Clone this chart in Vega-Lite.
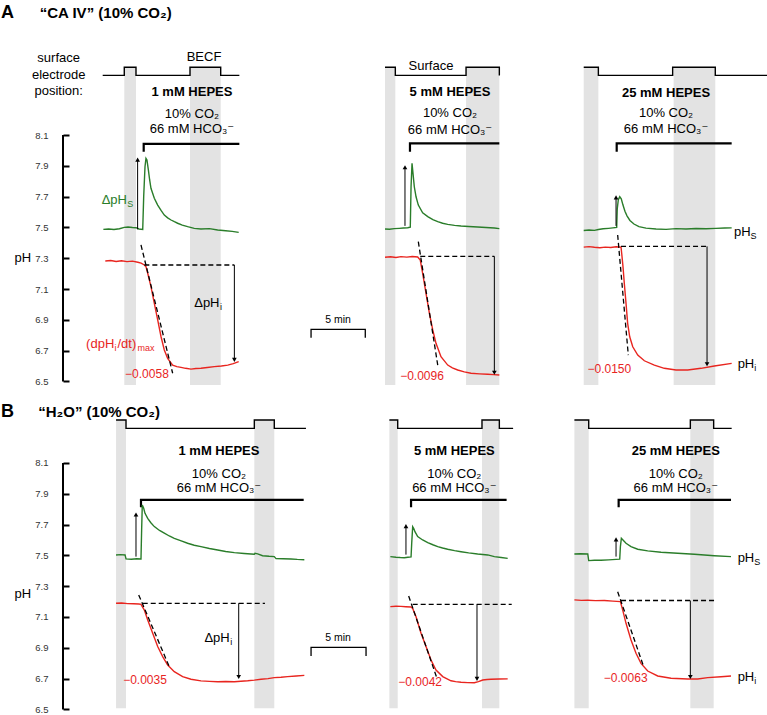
{
  "$schema": "https://vega.github.io/schema/vega-lite/v6.json",
  "background": "white",
  "padding": 0,
  "spacing": 0,
  "resolve": {"scale": {"x": "independent", "y": "independent"}},
  "config": {
    "view": {"stroke": null},
    "font": "Liberation Sans, Arial, DejaVu Sans, sans-serif",
    "axis": {"labelFont": "Liberation Sans, Arial, sans-serif", "titleFont": "Liberation Sans, Arial, sans-serif"}
  },
  "datasets": {
    "bands": [
      {"p": "A", "c": 1, "t1": 5.65, "t2": 6.73}, {"p": "A", "c": 1, "t1": 11.71, "t2": 14.54},
      {"p": "A", "c": 5, "t1": 29.69, "t2": 30.64}, {"p": "A", "c": 5, "t1": 37.16, "t2": 40.23},
      {"p": "A", "c": 25, "t1": 48.01, "t2": 49.36}, {"p": "A", "c": 25, "t1": 56.3, "t2": 60.14},
      {"p": "B", "c": 1, "t1": 4.89, "t2": 5.81}, {"p": "B", "c": 1, "t1": 17.64, "t2": 19.48},
      {"p": "B", "c": 5, "t1": 30.09, "t2": 30.86}, {"p": "B", "c": 5, "t1": 38.63, "t2": 40.23},
      {"p": "B", "c": 25, "t1": 47.15, "t2": 48.47}, {"p": "B", "c": 25, "t1": 57.84, "t2": 59.99}
    ],
    "electrode": [
      {"p": "A", "c": 1, "o": 1, "t": 3.66, "v": 8.487}, {"p": "A", "c": 1, "o": 2, "t": 5.65, "v": 8.487}, {"p": "A", "c": 1, "o": 3, "t": 5.65, "v": 8.54}, {"p": "A", "c": 1, "o": 4, "t": 6.73, "v": 8.54}, {"p": "A", "c": 1, "o": 5, "t": 6.73, "v": 8.487}, {"p": "A", "c": 1, "o": 6, "t": 11.71, "v": 8.487}, {"p": "A", "c": 1, "o": 7, "t": 11.71, "v": 8.54}, {"p": "A", "c": 1, "o": 8, "t": 14.54, "v": 8.54}, {"p": "A", "c": 1, "o": 9, "t": 14.54, "v": 8.487}, {"p": "A", "c": 1, "o": 10, "t": 16.26, "v": 8.487},
      {"p": "A", "c": 5, "o": 1, "t": 29.69, "v": 8.54}, {"p": "A", "c": 5, "o": 2, "t": 30.64, "v": 8.54}, {"p": "A", "c": 5, "o": 3, "t": 30.64, "v": 8.487}, {"p": "A", "c": 5, "o": 4, "t": 37.16, "v": 8.487}, {"p": "A", "c": 5, "o": 5, "t": 37.16, "v": 8.54}, {"p": "A", "c": 5, "o": 6, "t": 40.23, "v": 8.54}, {"p": "A", "c": 5, "o": 7, "t": 40.23, "v": 8.487},
      {"p": "A", "c": 25, "o": 1, "t": 48.01, "v": 8.54}, {"p": "A", "c": 25, "o": 2, "t": 49.36, "v": 8.54}, {"p": "A", "c": 25, "o": 3, "t": 49.36, "v": 8.487}, {"p": "A", "c": 25, "o": 4, "t": 56.21, "v": 8.487}, {"p": "A", "c": 25, "o": 5, "t": 56.21, "v": 8.54}, {"p": "A", "c": 25, "o": 6, "t": 60.14, "v": 8.54}, {"p": "A", "c": 25, "o": 7, "t": 60.14, "v": 8.487}, {"p": "A", "c": 25, "o": 8, "t": 65.0, "v": 8.487},
      {"p": "B", "c": 1, "o": 1, "t": 4.89, "v": 8.379}, {"p": "B", "c": 1, "o": 2, "t": 5.81, "v": 8.379}, {"p": "B", "c": 1, "o": 3, "t": 5.81, "v": 8.325}, {"p": "B", "c": 1, "o": 4, "t": 17.64, "v": 8.325}, {"p": "B", "c": 1, "o": 5, "t": 17.64, "v": 8.379}, {"p": "B", "c": 1, "o": 6, "t": 19.48, "v": 8.379}, {"p": "B", "c": 1, "o": 7, "t": 19.48, "v": 8.325}, {"p": "B", "c": 1, "o": 8, "t": 22.4, "v": 8.325},
      {"p": "B", "c": 5, "o": 1, "t": 30.09, "v": 8.379}, {"p": "B", "c": 5, "o": 2, "t": 30.86, "v": 8.379}, {"p": "B", "c": 5, "o": 3, "t": 30.86, "v": 8.325}, {"p": "B", "c": 5, "o": 4, "t": 38.63, "v": 8.325}, {"p": "B", "c": 5, "o": 5, "t": 38.63, "v": 8.379}, {"p": "B", "c": 5, "o": 6, "t": 40.23, "v": 8.379}, {"p": "B", "c": 5, "o": 7, "t": 40.23, "v": 8.325}, {"p": "B", "c": 5, "o": 8, "t": 41.5, "v": 8.325},
      {"p": "B", "c": 25, "o": 1, "t": 47.15, "v": 8.379}, {"p": "B", "c": 25, "o": 2, "t": 48.47, "v": 8.379}, {"p": "B", "c": 25, "o": 3, "t": 48.47, "v": 8.325}, {"p": "B", "c": 25, "o": 4, "t": 57.84, "v": 8.325}, {"p": "B", "c": 25, "o": 5, "t": 57.84, "v": 8.379}, {"p": "B", "c": 25, "o": 6, "t": 59.99, "v": 8.379}, {"p": "B", "c": 25, "o": 7, "t": 59.99, "v": 8.325}, {"p": "B", "c": 25, "o": 8, "t": 61.65, "v": 8.325}
    ],
    "co2": [
      {"p": "A", "c": 1, "o": 1, "t": 7.44, "v": 7.992}, {"p": "A", "c": 1, "o": 2, "t": 7.44, "v": 8.042}, {"p": "A", "c": 1, "o": 3, "t": 16.26, "v": 8.042},
      {"p": "A", "c": 5, "o": 1, "t": 31.99, "v": 7.992}, {"p": "A", "c": 5, "o": 2, "t": 31.99, "v": 8.046}, {"p": "A", "c": 5, "o": 3, "t": 40.23, "v": 8.046},
      {"p": "A", "c": 25, "o": 1, "t": 51.05, "v": 7.992}, {"p": "A", "c": 25, "o": 2, "t": 51.05, "v": 8.046}, {"p": "A", "c": 25, "o": 3, "t": 61.65, "v": 8.046},
      {"p": "B", "c": 1, "o": 1, "t": 7.19, "v": 7.812}, {"p": "B", "c": 1, "o": 2, "t": 7.19, "v": 7.86}, {"p": "B", "c": 1, "o": 3, "t": 22.19, "v": 7.86},
      {"p": "B", "c": 5, "o": 1, "t": 32.09, "v": 7.812}, {"p": "B", "c": 5, "o": 2, "t": 32.09, "v": 7.86}, {"p": "B", "c": 5, "o": 3, "t": 40.9, "v": 7.86},
      {"p": "B", "c": 25, "o": 1, "t": 51.23, "v": 7.812}, {"p": "B", "c": 25, "o": 2, "t": 51.23, "v": 7.86}, {"p": "B", "c": 25, "o": 3, "t": 61.59, "v": 7.86}
    ],
    "scalebar": [
      {"p": "A", "o": 1, "t": 22.87, "v": 6.784}, {"p": "A", "o": 2, "t": 22.87, "v": 6.838}, {"p": "A", "o": 3, "t": 27.87, "v": 6.838}, {"p": "A", "o": 4, "t": 27.87, "v": 6.784},
      {"p": "B", "o": 1, "t": 22.87, "v": 6.847}, {"p": "B", "o": 2, "t": 22.87, "v": 6.903}, {"p": "B", "o": 3, "t": 27.94, "v": 6.903}, {"p": "B", "o": 4, "t": 27.94, "v": 6.847}
    ],
    "dash": [
      {"p": "A", "c": 1, "k": "slope", "t": 7.19, "pH": 7.386}, {"p": "A", "c": 1, "k": "slope", "t": 10.11, "pH": 6.553},
      {"p": "A", "c": 1, "k": "flat", "t": 7.5, "pH": 7.256}, {"p": "A", "c": 1, "k": "flat", "t": 15.8, "pH": 7.256},
      {"p": "A", "c": 5, "k": "slope", "t": 32.76, "pH": 7.407}, {"p": "A", "c": 5, "k": "slope", "t": 34.55, "pH": 6.606},
      {"p": "A", "c": 5, "k": "flat", "t": 32.94, "pH": 7.312}, {"p": "A", "c": 5, "k": "flat", "t": 39.77, "pH": 7.312},
      {"p": "A", "c": 25, "k": "slope", "t": 51.14, "pH": 7.451}, {"p": "A", "c": 25, "k": "slope", "t": 52.12, "pH": 6.671},
      {"p": "A", "c": 25, "k": "flat", "t": 51.45, "pH": 7.377}, {"p": "A", "c": 25, "k": "flat", "t": 59.38, "pH": 7.377},
      {"p": "B", "c": 1, "k": "slope", "t": 6.98, "pH": 7.243}, {"p": "B", "c": 1, "k": "slope", "t": 9.8, "pH": 6.777},
      {"p": "B", "c": 1, "k": "flat", "t": 7.35, "pH": 7.189}, {"p": "B", "c": 1, "k": "flat", "t": 18.62, "pH": 7.189},
      {"p": "B", "c": 5, "k": "slope", "t": 31.87, "pH": 7.236}, {"p": "B", "c": 5, "k": "slope", "t": 34.48, "pH": 6.702},
      {"p": "B", "c": 5, "k": "flat", "t": 32.24, "pH": 7.182}, {"p": "B", "c": 5, "k": "flat", "t": 41.37, "pH": 7.182},
      {"p": "B", "c": 25, "k": "slope", "t": 51.14, "pH": 7.264}, {"p": "B", "c": 25, "k": "slope", "t": 53.54, "pH": 6.777},
      {"p": "B", "c": 25, "k": "flat", "t": 51.45, "pH": 7.207}, {"p": "B", "c": 25, "k": "flat", "t": 60.05, "pH": 7.207}
    ],
    "arrows": [
      {"p": "A", "c": 1, "t": 6.88, "y0": 7.487, "y1": 7.94, "dir": "up"},
      {"p": "A", "c": 1, "t": 15.8, "y0": 7.256, "y1": 6.64, "dir": "down"},
      {"p": "A", "c": 5, "t": 31.53, "y0": 7.51, "y1": 7.89, "dir": "up"},
      {"p": "A", "c": 5, "t": 39.77, "y0": 7.312, "y1": 6.556, "dir": "down"},
      {"p": "A", "c": 25, "t": 50.99, "y0": 7.51, "y1": 7.695, "dir": "up"},
      {"p": "A", "c": 25, "t": 59.38, "y0": 7.377, "y1": 6.612, "dir": "down"},
      {"p": "B", "c": 1, "t": 6.73, "y0": 7.492, "y1": 7.765, "dir": "up"},
      {"p": "B", "c": 1, "t": 16.2, "y0": 7.189, "y1": 6.71, "dir": "down"},
      {"p": "B", "c": 5, "t": 31.62, "y0": 7.505, "y1": 7.69, "dir": "up"},
      {"p": "B", "c": 5, "t": 38.17, "y0": 7.182, "y1": 6.698, "dir": "down"},
      {"p": "B", "c": 25, "t": 50.99, "y0": 7.492, "y1": 7.604, "dir": "up"},
      {"p": "B", "c": 25, "t": 57.84, "y0": 7.207, "y1": 6.71, "dir": "down"}
    ],
    "traces": [
      {"p":"A","c":1,"s":"pHS","t":3.72,"pH":7.487},{"p":"A","c":1,"s":"pHS","t":4.2,"pH":7.49},{"p":"A","c":1,"s":"pHS","t":4.7,"pH":7.486},{"p":"A","c":1,"s":"pHS","t":5.2,"pH":7.491},{"p":"A","c":1,"s":"pHS","t":5.65,"pH":7.5},{"p":"A","c":1,"s":"pHS","t":6.0,"pH":7.503},{"p":"A","c":1,"s":"pHS","t":6.4,"pH":7.499},{"p":"A","c":1,"s":"pHS","t":6.73,"pH":7.498},{"p":"A","c":1,"s":"pHS","t":7.0,"pH":7.49},{"p":"A","c":1,"s":"pHS","t":7.35,"pH":7.487},{"p":"A","c":1,"s":"pHS","t":7.44,"pH":7.7},{"p":"A","c":1,"s":"pHS","t":7.56,"pH":7.894},{"p":"A","c":1,"s":"pHS","t":7.65,"pH":7.948},{"p":"A","c":1,"s":"pHS","t":7.74,"pH":7.938},{"p":"A","c":1,"s":"pHS","t":7.87,"pH":7.873},{"p":"A","c":1,"s":"pHS","t":7.99,"pH":7.808},{"p":"A","c":1,"s":"pHS","t":8.11,"pH":7.754},{"p":"A","c":1,"s":"pHS","t":8.42,"pH":7.689},{"p":"A","c":1,"s":"pHS","t":8.73,"pH":7.645},{"p":"A","c":1,"s":"pHS","t":9.04,"pH":7.61},{"p":"A","c":1,"s":"pHS","t":9.34,"pH":7.58},{"p":"A","c":1,"s":"pHS","t":9.65,"pH":7.562},{"p":"A","c":1,"s":"pHS","t":9.96,"pH":7.548},{"p":"A","c":1,"s":"pHS","t":10.27,"pH":7.537},{"p":"A","c":1,"s":"pHS","t":10.57,"pH":7.527},{"p":"A","c":1,"s":"pHS","t":11.0,"pH":7.515},{"p":"A","c":1,"s":"pHS","t":11.49,"pH":7.505},{"p":"A","c":1,"s":"pHS","t":12.1,"pH":7.494},{"p":"A","c":1,"s":"pHS","t":12.72,"pH":7.49},{"p":"A","c":1,"s":"pHS","t":13.5,"pH":7.492},{"p":"A","c":1,"s":"pHS","t":14.26,"pH":7.483},{"p":"A","c":1,"s":"pHS","t":15.0,"pH":7.478},{"p":"A","c":1,"s":"pHS","t":15.6,"pH":7.474},{"p":"A","c":1,"s":"pHS","t":16.2,"pH":7.468},
      {"p":"A","c":1,"s":"pHi","t":3.9,"pH":7.282},{"p":"A","c":1,"s":"pHi","t":4.4,"pH":7.285},{"p":"A","c":1,"s":"pHi","t":4.9,"pH":7.279},{"p":"A","c":1,"s":"pHi","t":5.4,"pH":7.283},{"p":"A","c":1,"s":"pHi","t":5.9,"pH":7.278},{"p":"A","c":1,"s":"pHi","t":6.4,"pH":7.281},{"p":"A","c":1,"s":"pHi","t":6.9,"pH":7.274},{"p":"A","c":1,"s":"pHi","t":7.2,"pH":7.268},{"p":"A","c":1,"s":"pHi","t":7.5,"pH":7.256},{"p":"A","c":1,"s":"pHi","t":7.65,"pH":7.245},{"p":"A","c":1,"s":"pHi","t":7.81,"pH":7.202},{"p":"A","c":1,"s":"pHi","t":8.11,"pH":7.115},{"p":"A","c":1,"s":"pHi","t":8.42,"pH":7.007},{"p":"A","c":1,"s":"pHi","t":8.73,"pH":6.899},{"p":"A","c":1,"s":"pHi","t":9.04,"pH":6.79},{"p":"A","c":1,"s":"pHi","t":9.34,"pH":6.704},{"p":"A","c":1,"s":"pHi","t":9.65,"pH":6.65},{"p":"A","c":1,"s":"pHi","t":10.11,"pH":6.606},{"p":"A","c":1,"s":"pHi","t":10.5,"pH":6.596},{"p":"A","c":1,"s":"pHi","t":10.88,"pH":6.591},{"p":"A","c":1,"s":"pHi","t":11.3,"pH":6.585},{"p":"A","c":1,"s":"pHi","t":11.8,"pH":6.58},{"p":"A","c":1,"s":"pHi","t":12.25,"pH":6.584},{"p":"A","c":1,"s":"pHi","t":12.72,"pH":6.585},{"p":"A","c":1,"s":"pHi","t":13.3,"pH":6.59},{"p":"A","c":1,"s":"pHi","t":13.95,"pH":6.596},{"p":"A","c":1,"s":"pHi","t":14.6,"pH":6.6},{"p":"A","c":1,"s":"pHi","t":15.19,"pH":6.606},{"p":"A","c":1,"s":"pHi","t":15.7,"pH":6.615},{"p":"A","c":1,"s":"pHi","t":16.2,"pH":6.628},
      {"p":"A","c":5,"s":"pHS","t":29.69,"pH":7.49},{"p":"A","c":5,"s":"pHS","t":30.1,"pH":7.488},{"p":"A","c":5,"s":"pHS","t":30.55,"pH":7.492},{"p":"A","c":5,"s":"pHS","t":31.0,"pH":7.494},{"p":"A","c":5,"s":"pHS","t":31.4,"pH":7.496},{"p":"A","c":5,"s":"pHS","t":31.78,"pH":7.498},{"p":"A","c":5,"s":"pHS","t":32.02,"pH":7.501},{"p":"A","c":5,"s":"pHS","t":32.09,"pH":7.764},{"p":"A","c":5,"s":"pHS","t":32.18,"pH":7.916},{"p":"A","c":5,"s":"pHS","t":32.27,"pH":7.851},{"p":"A","c":5,"s":"pHS","t":32.39,"pH":7.764},{"p":"A","c":5,"s":"pHS","t":32.55,"pH":7.699},{"p":"A","c":5,"s":"pHS","t":32.76,"pH":7.645},{"p":"A","c":5,"s":"pHS","t":33.16,"pH":7.595},{"p":"A","c":5,"s":"pHS","t":33.63,"pH":7.57},{"p":"A","c":5,"s":"pHS","t":34.1,"pH":7.55},{"p":"A","c":5,"s":"pHS","t":34.55,"pH":7.537},{"p":"A","c":5,"s":"pHS","t":35.0,"pH":7.527},{"p":"A","c":5,"s":"pHS","t":35.47,"pH":7.52},{"p":"A","c":5,"s":"pHS","t":36.1,"pH":7.513},{"p":"A","c":5,"s":"pHS","t":36.7,"pH":7.509},{"p":"A","c":5,"s":"pHS","t":37.4,"pH":7.506},{"p":"A","c":5,"s":"pHS","t":38.23,"pH":7.503},{"p":"A","c":5,"s":"pHS","t":39.0,"pH":7.499},{"p":"A","c":5,"s":"pHS","t":39.77,"pH":7.496},{"p":"A","c":5,"s":"pHS","t":40.23,"pH":7.492},
      {"p":"A","c":5,"s":"pHi","t":29.69,"pH":7.306},{"p":"A","c":5,"s":"pHi","t":30.2,"pH":7.309},{"p":"A","c":5,"s":"pHi","t":30.7,"pH":7.305},{"p":"A","c":5,"s":"pHi","t":31.16,"pH":7.31},{"p":"A","c":5,"s":"pHi","t":31.7,"pH":7.307},{"p":"A","c":5,"s":"pHi","t":32.2,"pH":7.311},{"p":"A","c":5,"s":"pHi","t":32.7,"pH":7.308},{"p":"A","c":5,"s":"pHi","t":32.94,"pH":7.288},{"p":"A","c":5,"s":"pHi","t":33.16,"pH":7.202},{"p":"A","c":5,"s":"pHi","t":33.47,"pH":7.072},{"p":"A","c":5,"s":"pHi","t":33.78,"pH":6.942},{"p":"A","c":5,"s":"pHi","t":34.09,"pH":6.834},{"p":"A","c":5,"s":"pHi","t":34.39,"pH":6.747},{"p":"A","c":5,"s":"pHi","t":34.85,"pH":6.66},{"p":"A","c":5,"s":"pHi","t":35.47,"pH":6.606},{"p":"A","c":5,"s":"pHi","t":35.9,"pH":6.588},{"p":"A","c":5,"s":"pHi","t":36.39,"pH":6.574},{"p":"A","c":5,"s":"pHi","t":37.0,"pH":6.562},{"p":"A","c":5,"s":"pHi","t":37.62,"pH":6.553},{"p":"A","c":5,"s":"pHi","t":38.4,"pH":6.549},{"p":"A","c":5,"s":"pHi","t":39.16,"pH":6.546},{"p":"A","c":5,"s":"pHi","t":39.7,"pH":6.544},{"p":"A","c":5,"s":"pHi","t":40.23,"pH":6.542},
      {"p":"A","c":25,"s":"pHS","t":48.01,"pH":7.48},{"p":"A","c":25,"s":"pHS","t":48.5,"pH":7.483},{"p":"A","c":25,"s":"pHS","t":49.0,"pH":7.481},{"p":"A","c":25,"s":"pHS","t":49.36,"pH":7.486},{"p":"A","c":25,"s":"pHS","t":49.8,"pH":7.491},{"p":"A","c":25,"s":"pHS","t":50.3,"pH":7.494},{"p":"A","c":25,"s":"pHS","t":50.7,"pH":7.497},{"p":"A","c":25,"s":"pHS","t":51.05,"pH":7.5},{"p":"A","c":25,"s":"pHS","t":51.1,"pH":7.62},{"p":"A","c":25,"s":"pHS","t":51.2,"pH":7.68},{"p":"A","c":25,"s":"pHS","t":51.33,"pH":7.7},{"p":"A","c":25,"s":"pHS","t":51.47,"pH":7.686},{"p":"A","c":25,"s":"pHS","t":51.63,"pH":7.645},{"p":"A","c":25,"s":"pHS","t":51.81,"pH":7.605},{"p":"A","c":25,"s":"pHS","t":52.0,"pH":7.575},{"p":"A","c":25,"s":"pHS","t":52.27,"pH":7.545},{"p":"A","c":25,"s":"pHS","t":52.64,"pH":7.522},{"p":"A","c":25,"s":"pHS","t":53.1,"pH":7.505},{"p":"A","c":25,"s":"pHS","t":53.75,"pH":7.495},{"p":"A","c":25,"s":"pHS","t":54.68,"pH":7.49},{"p":"A","c":25,"s":"pHS","t":55.6,"pH":7.487},{"p":"A","c":25,"s":"pHS","t":56.52,"pH":7.492},{"p":"A","c":25,"s":"pHS","t":57.44,"pH":7.49},{"p":"A","c":25,"s":"pHS","t":58.36,"pH":7.493},{"p":"A","c":25,"s":"pHS","t":59.29,"pH":7.491},{"p":"A","c":25,"s":"pHS","t":60.2,"pH":7.494},{"p":"A","c":25,"s":"pHS","t":61.0,"pH":7.496},{"p":"A","c":25,"s":"pHS","t":61.65,"pH":7.497},
      {"p":"A","c":25,"s":"pHi","t":48.01,"pH":7.372},{"p":"A","c":25,"s":"pHi","t":48.5,"pH":7.375},{"p":"A","c":25,"s":"pHi","t":49.0,"pH":7.371},{"p":"A","c":25,"s":"pHi","t":49.5,"pH":7.368},{"p":"A","c":25,"s":"pHi","t":50.0,"pH":7.372},{"p":"A","c":25,"s":"pHi","t":50.5,"pH":7.37},{"p":"A","c":25,"s":"pHi","t":51.0,"pH":7.374},{"p":"A","c":25,"s":"pHi","t":51.45,"pH":7.372},{"p":"A","c":25,"s":"pHi","t":51.51,"pH":7.332},{"p":"A","c":25,"s":"pHi","t":51.63,"pH":7.245},{"p":"A","c":25,"s":"pHi","t":51.75,"pH":7.137},{"p":"A","c":25,"s":"pHi","t":51.91,"pH":7.007},{"p":"A","c":25,"s":"pHi","t":52.06,"pH":6.877},{"p":"A","c":25,"s":"pHi","t":52.25,"pH":6.79},{"p":"A","c":25,"s":"pHi","t":52.53,"pH":6.725},{"p":"A","c":25,"s":"pHi","t":52.99,"pH":6.671},{"p":"A","c":25,"s":"pHi","t":53.6,"pH":6.634},{"p":"A","c":25,"s":"pHi","t":54.52,"pH":6.606},{"p":"A","c":25,"s":"pHi","t":55.44,"pH":6.585},{"p":"A","c":25,"s":"pHi","t":56.52,"pH":6.574},{"p":"A","c":25,"s":"pHi","t":57.6,"pH":6.574},{"p":"A","c":25,"s":"pHi","t":58.82,"pH":6.585},{"p":"A","c":25,"s":"pHi","t":60.05,"pH":6.6},{"p":"A","c":25,"s":"pHi","t":61.65,"pH":6.617},
      {"p":"B","c":1,"s":"pHS","t":4.89,"pH":7.503},{"p":"B","c":1,"s":"pHS","t":5.3,"pH":7.505},{"p":"B","c":1,"s":"pHS","t":5.72,"pH":7.503},{"p":"B","c":1,"s":"pHS","t":5.81,"pH":7.477},{"p":"B","c":1,"s":"pHS","t":6.3,"pH":7.475},{"p":"B","c":1,"s":"pHS","t":6.8,"pH":7.478},{"p":"B","c":1,"s":"pHS","t":7.19,"pH":7.477},{"p":"B","c":1,"s":"pHS","t":7.25,"pH":7.665},{"p":"B","c":1,"s":"pHS","t":7.31,"pH":7.827},{"p":"B","c":1,"s":"pHS","t":7.44,"pH":7.806},{"p":"B","c":1,"s":"pHS","t":7.56,"pH":7.773},{"p":"B","c":1,"s":"pHS","t":7.81,"pH":7.741},{"p":"B","c":1,"s":"pHS","t":8.1,"pH":7.712},{"p":"B","c":1,"s":"pHS","t":8.42,"pH":7.687},{"p":"B","c":1,"s":"pHS","t":8.9,"pH":7.662},{"p":"B","c":1,"s":"pHS","t":9.34,"pH":7.644},{"p":"B","c":1,"s":"pHS","t":9.8,"pH":7.626},{"p":"B","c":1,"s":"pHS","t":10.26,"pH":7.611},{"p":"B","c":1,"s":"pHS","t":10.9,"pH":7.594},{"p":"B","c":1,"s":"pHS","t":11.49,"pH":7.579},{"p":"B","c":1,"s":"pHS","t":12.1,"pH":7.566},{"p":"B","c":1,"s":"pHS","t":12.72,"pH":7.557},{"p":"B","c":1,"s":"pHS","t":13.5,"pH":7.545},{"p":"B","c":1,"s":"pHS","t":14.26,"pH":7.535},{"p":"B","c":1,"s":"pHS","t":15.0,"pH":7.525},{"p":"B","c":1,"s":"pHS","t":15.8,"pH":7.518},{"p":"B","c":1,"s":"pHS","t":16.7,"pH":7.512},{"p":"B","c":1,"s":"pHS","t":17.64,"pH":7.507},{"p":"B","c":1,"s":"pHS","t":17.7,"pH":7.514},{"p":"B","c":1,"s":"pHS","t":17.95,"pH":7.51},{"p":"B","c":1,"s":"pHS","t":18.4,"pH":7.498},{"p":"B","c":1,"s":"pHS","t":19.0,"pH":7.494},{"p":"B","c":1,"s":"pHS","t":19.48,"pH":7.492},{"p":"B","c":1,"s":"pHS","t":19.64,"pH":7.479},{"p":"B","c":1,"s":"pHS","t":20.3,"pH":7.478},{"p":"B","c":1,"s":"pHS","t":21.02,"pH":7.477},{"p":"B","c":1,"s":"pHS","t":21.6,"pH":7.474},{"p":"B","c":1,"s":"pHS","t":22.25,"pH":7.472},
      {"p":"B","c":1,"s":"pHi","t":4.89,"pH":7.189},{"p":"B","c":1,"s":"pHi","t":5.4,"pH":7.191},{"p":"B","c":1,"s":"pHi","t":5.96,"pH":7.187},{"p":"B","c":1,"s":"pHi","t":6.5,"pH":7.186},{"p":"B","c":1,"s":"pHi","t":7.0,"pH":7.184},{"p":"B","c":1,"s":"pHi","t":7.19,"pH":7.182},{"p":"B","c":1,"s":"pHi","t":7.5,"pH":7.145},{"p":"B","c":1,"s":"pHi","t":7.81,"pH":7.081},{"p":"B","c":1,"s":"pHi","t":8.27,"pH":6.994},{"p":"B","c":1,"s":"pHi","t":8.73,"pH":6.908},{"p":"B","c":1,"s":"pHi","t":9.19,"pH":6.843},{"p":"B","c":1,"s":"pHi","t":9.65,"pH":6.788},{"p":"B","c":1,"s":"pHi","t":10.26,"pH":6.745},{"p":"B","c":1,"s":"pHi","t":11.03,"pH":6.713},{"p":"B","c":1,"s":"pHi","t":11.8,"pH":6.696},{"p":"B","c":1,"s":"pHi","t":12.72,"pH":6.685},{"p":"B","c":1,"s":"pHi","t":13.5,"pH":6.682},{"p":"B","c":1,"s":"pHi","t":14.26,"pH":6.68},{"p":"B","c":1,"s":"pHi","t":15.0,"pH":6.681},{"p":"B","c":1,"s":"pHi","t":15.8,"pH":6.68},{"p":"B","c":1,"s":"pHi","t":16.4,"pH":6.683},{"p":"B","c":1,"s":"pHi","t":17.03,"pH":6.686},{"p":"B","c":1,"s":"pHi","t":17.64,"pH":6.69},{"p":"B","c":1,"s":"pHi","t":18.26,"pH":6.696},{"p":"B","c":1,"s":"pHi","t":18.9,"pH":6.7},{"p":"B","c":1,"s":"pHi","t":19.48,"pH":6.706},{"p":"B","c":1,"s":"pHi","t":20.1,"pH":6.709},{"p":"B","c":1,"s":"pHi","t":20.71,"pH":6.713},{"p":"B","c":1,"s":"pHi","t":21.5,"pH":6.717},{"p":"B","c":1,"s":"pHi","t":22.25,"pH":6.721},
      {"p":"B","c":5,"s":"pHS","t":30.18,"pH":7.492},{"p":"B","c":5,"s":"pHS","t":30.7,"pH":7.488},{"p":"B","c":5,"s":"pHS","t":31.1,"pH":7.486},{"p":"B","c":5,"s":"pHS","t":31.47,"pH":7.485},{"p":"B","c":5,"s":"pHS","t":31.8,"pH":7.488},{"p":"B","c":5,"s":"pHS","t":32.09,"pH":7.49},{"p":"B","c":5,"s":"pHS","t":32.15,"pH":7.578},{"p":"B","c":5,"s":"pHS","t":32.24,"pH":7.686},{"p":"B","c":5,"s":"pHS","t":32.33,"pH":7.676},{"p":"B","c":5,"s":"pHS","t":32.45,"pH":7.654},{"p":"B","c":5,"s":"pHS","t":32.7,"pH":7.622},{"p":"B","c":5,"s":"pHS","t":33.16,"pH":7.6},{"p":"B","c":5,"s":"pHS","t":33.63,"pH":7.583},{"p":"B","c":5,"s":"pHS","t":34.1,"pH":7.569},{"p":"B","c":5,"s":"pHS","t":34.55,"pH":7.557},{"p":"B","c":5,"s":"pHS","t":35.0,"pH":7.548},{"p":"B","c":5,"s":"pHS","t":35.47,"pH":7.54},{"p":"B","c":5,"s":"pHS","t":36.1,"pH":7.531},{"p":"B","c":5,"s":"pHS","t":36.7,"pH":7.524},{"p":"B","c":5,"s":"pHS","t":37.4,"pH":7.516},{"p":"B","c":5,"s":"pHS","t":38.23,"pH":7.509},{"p":"B","c":5,"s":"pHS","t":38.7,"pH":7.506},{"p":"B","c":5,"s":"pHS","t":39.16,"pH":7.503},{"p":"B","c":5,"s":"pHS","t":39.77,"pH":7.492},{"p":"B","c":5,"s":"pHS","t":40.4,"pH":7.486},{"p":"B","c":5,"s":"pHS","t":41.0,"pH":7.481},
      {"p":"B","c":5,"s":"pHi","t":30.18,"pH":7.167},{"p":"B","c":5,"s":"pHi","t":30.7,"pH":7.17},{"p":"B","c":5,"s":"pHi","t":31.16,"pH":7.169},{"p":"B","c":5,"s":"pHi","t":31.6,"pH":7.167},{"p":"B","c":5,"s":"pHi","t":32.09,"pH":7.165},{"p":"B","c":5,"s":"pHi","t":32.24,"pH":7.156},{"p":"B","c":5,"s":"pHi","t":32.55,"pH":7.102},{"p":"B","c":5,"s":"pHi","t":33.01,"pH":6.994},{"p":"B","c":5,"s":"pHi","t":33.47,"pH":6.908},{"p":"B","c":5,"s":"pHi","t":33.93,"pH":6.821},{"p":"B","c":5,"s":"pHi","t":34.39,"pH":6.756},{"p":"B","c":5,"s":"pHi","t":35.01,"pH":6.713},{"p":"B","c":5,"s":"pHi","t":35.77,"pH":6.686},{"p":"B","c":5,"s":"pHi","t":36.2,"pH":6.68},{"p":"B","c":5,"s":"pHi","t":36.7,"pH":6.676},{"p":"B","c":5,"s":"pHi","t":37.3,"pH":6.674},{"p":"B","c":5,"s":"pHi","t":37.92,"pH":6.673},{"p":"B","c":5,"s":"pHi","t":38.3,"pH":6.68},{"p":"B","c":5,"s":"pHi","t":38.7,"pH":6.691},{"p":"B","c":5,"s":"pHi","t":39.1,"pH":6.694},{"p":"B","c":5,"s":"pHi","t":39.46,"pH":6.696},{"p":"B","c":5,"s":"pHi","t":40.2,"pH":6.697},{"p":"B","c":5,"s":"pHi","t":41.0,"pH":6.698},
      {"p":"B","c":25,"s":"pHS","t":47.15,"pH":7.509},{"p":"B","c":25,"s":"pHS","t":47.7,"pH":7.511},{"p":"B","c":25,"s":"pHS","t":48.38,"pH":7.509},{"p":"B","c":25,"s":"pHS","t":48.47,"pH":7.466},{"p":"B","c":25,"s":"pHS","t":49.0,"pH":7.468},{"p":"B","c":25,"s":"pHS","t":49.6,"pH":7.468},{"p":"B","c":25,"s":"pHS","t":50.3,"pH":7.471},{"p":"B","c":25,"s":"pHS","t":50.99,"pH":7.474},{"p":"B","c":25,"s":"pHS","t":51.33,"pH":7.476},{"p":"B","c":25,"s":"pHS","t":51.39,"pH":7.556},{"p":"B","c":25,"s":"pHS","t":51.48,"pH":7.611},{"p":"B","c":25,"s":"pHS","t":51.63,"pH":7.6},{"p":"B","c":25,"s":"pHS","t":51.91,"pH":7.579},{"p":"B","c":25,"s":"pHS","t":52.37,"pH":7.557},{"p":"B","c":25,"s":"pHS","t":52.99,"pH":7.54},{"p":"B","c":25,"s":"pHS","t":53.91,"pH":7.529},{"p":"B","c":25,"s":"pHS","t":55.14,"pH":7.52},{"p":"B","c":25,"s":"pHS","t":56.67,"pH":7.514},{"p":"B","c":25,"s":"pHS","t":58.21,"pH":7.507},{"p":"B","c":25,"s":"pHS","t":60.05,"pH":7.498},{"p":"B","c":25,"s":"pHS","t":61.59,"pH":7.492},
      {"p":"B","c":25,"s":"pHi","t":47.15,"pH":7.211},{"p":"B","c":25,"s":"pHi","t":47.8,"pH":7.208},{"p":"B","c":25,"s":"pHi","t":48.38,"pH":7.209},{"p":"B","c":25,"s":"pHi","t":49.1,"pH":7.206},{"p":"B","c":25,"s":"pHi","t":49.91,"pH":7.207},{"p":"B","c":25,"s":"pHi","t":50.7,"pH":7.203},{"p":"B","c":25,"s":"pHi","t":51.39,"pH":7.2},{"p":"B","c":25,"s":"pHi","t":51.6,"pH":7.146},{"p":"B","c":25,"s":"pHi","t":51.91,"pH":7.059},{"p":"B","c":25,"s":"pHi","t":52.37,"pH":6.951},{"p":"B","c":25,"s":"pHi","t":52.83,"pH":6.864},{"p":"B","c":25,"s":"pHi","t":53.29,"pH":6.799},{"p":"B","c":25,"s":"pHi","t":53.91,"pH":6.749},{"p":"B","c":25,"s":"pHi","t":54.83,"pH":6.717},{"p":"B","c":25,"s":"pHi","t":56.06,"pH":6.702},{"p":"B","c":25,"s":"pHi","t":57.6,"pH":6.697},{"p":"B","c":25,"s":"pHi","t":58.52,"pH":6.697},{"p":"B","c":25,"s":"pHi","t":59.44,"pH":6.706},{"p":"B","c":25,"s":"pHi","t":60.67,"pH":6.712},{"p":"B","c":25,"s":"pHi","t":61.59,"pH":6.717}
    ],
    "texts": [
      {"p":"A","g":"letter","s":"note","t":-5.72,"pH":8.892,"text":"A"},
      {"p":"A","g":"title","s":"note","t":-2.15,"pH":8.892,"text":"“CA IV” (10% CO₂)"},
      {"p":"A","g":"center","s":"note","t":-0.4,"pH":8.6,"text":"surface"},
      {"p":"A","g":"center","s":"note","t":-0.4,"pH":8.49,"text":"electrode"},
      {"p":"A","g":"center","s":"note","t":-0.4,"pH":8.386,"text":"position:"},
      {"p":"A","g":"center","s":"note","t":13.0,"pH":8.606,"text":"BECF"},
      {"p":"A","g":"bold","s":"note","t":11.89,"pH":8.379,"text":"1 mM HEPES"},
      {"p":"A","g":"center","s":"note","t":11.89,"pH":8.236,"text":"10% CO₂"},
      {"p":"A","g":"center","s":"note","t":11.89,"pH":8.136,"text":"66 mM HCO₃⁻"},
      {"p":"A","g":"center","s":"note","t":33.93,"pH":8.548,"text":"Surface"},
      {"p":"A","g":"bold","s":"note","t":35.68,"pH":8.379,"text":"5 mM HEPES"},
      {"p":"A","g":"center","s":"note","t":35.68,"pH":8.24,"text":"10% CO₂"},
      {"p":"A","g":"center","s":"note","t":35.68,"pH":8.134,"text":"66 mM HCO₃⁻"},
      {"p":"A","g":"bold","s":"note","t":55.6,"pH":8.372,"text":"25 mM HEPES"},
      {"p":"A","g":"center","s":"note","t":55.6,"pH":8.24,"text":"10% CO₂"},
      {"p":"A","g":"center","s":"note","t":55.6,"pH":8.139,"text":"66 mM HCO₃⁻"},
      {"p":"A","g":"right","s":"pHS","t":5.9,"pH":7.678,"text":"ΔpH"},
      {"p":"A","g":"sub","s":"pHS","t":5.93,"pH":7.65,"text":"S"},
      {"p":"A","g":"right","s":"note","t":14.43,"pH":7.007,"text":"ΔpH"},
      {"p":"A","g":"sub","s":"note","t":14.48,"pH":6.983,"text":"i"},
      {"p":"A","g":"right","s":"pHi","t":4.73,"pH":6.743,"text":"(dpH"},
      {"p":"A","g":"sub","s":"pHi","t":4.75,"pH":6.717,"text":"i"},
      {"p":"A","g":"left","s":"pHi","t":5.02,"pH":6.743,"text":"/dt)"},
      {"p":"A","g":"sub","s":"pHi","t":6.87,"pH":6.717,"text":"max"},
      {"p":"A","g":"num","s":"pHi","t":7.74,"pH":6.548,"text":"−0.0058"},
      {"p":"A","g":"num","s":"pHi","t":33.1,"pH":6.535,"text":"−0.0096"},
      {"p":"A","g":"num","s":"pHi","t":50.37,"pH":6.579,"text":"−0.0150"},
      {"p":"A","g":"left","s":"note","t":61.87,"pH":7.47,"text":"pH"},
      {"p":"A","g":"sub","s":"note","t":63.39,"pH":7.444,"text":"S"},
      {"p":"A","g":"left","s":"note","t":62.2,"pH":6.613,"text":"pH"},
      {"p":"A","g":"sub","s":"note","t":63.74,"pH":6.587,"text":"i"},
      {"p":"A","g":"small","s":"note","t":25.36,"pH":6.899,"text":"5 min"},
      {"p":"B","g":"letter","s":"note","t":-5.72,"pH":8.431,"text":"B"},
      {"p":"B","g":"title","s":"note","t":-2.28,"pH":8.431,"text":"“H₂O” (10% CO₂)"},
      {"p":"B","g":"bold","s":"note","t":14.38,"pH":8.178,"text":"1 mM HEPES"},
      {"p":"B","g":"center","s":"note","t":14.38,"pH":8.029,"text":"10% CO₂"},
      {"p":"B","g":"center","s":"note","t":14.38,"pH":7.938,"text":"66 mM HCO₃⁻"},
      {"p":"B","g":"bold","s":"note","t":36.08,"pH":8.178,"text":"5 mM HEPES"},
      {"p":"B","g":"center","s":"note","t":36.08,"pH":8.029,"text":"10% CO₂"},
      {"p":"B","g":"center","s":"note","t":36.08,"pH":7.938,"text":"66 mM HCO₃⁻"},
      {"p":"B","g":"bold","s":"note","t":56.5,"pH":8.178,"text":"25 mM HEPES"},
      {"p":"B","g":"center","s":"note","t":56.5,"pH":8.029,"text":"10% CO₂"},
      {"p":"B","g":"center","s":"note","t":56.5,"pH":7.938,"text":"66 mM HCO₃⁻"},
      {"p":"B","g":"right","s":"note","t":15.37,"pH":6.962,"text":"ΔpH"},
      {"p":"B","g":"sub","s":"note","t":15.42,"pH":6.936,"text":"i"},
      {"p":"B","g":"num","s":"pHi","t":7.56,"pH":6.691,"text":"−0.0035"},
      {"p":"B","g":"num","s":"pHi","t":32.93,"pH":6.68,"text":"−0.0042"},
      {"p":"B","g":"num","s":"pHi","t":51.88,"pH":6.706,"text":"−0.0063"},
      {"p":"B","g":"left","s":"note","t":62.2,"pH":7.481,"text":"pH"},
      {"p":"B","g":"sub","s":"note","t":63.74,"pH":7.455,"text":"S"},
      {"p":"B","g":"left","s":"note","t":62.2,"pH":6.712,"text":"pH"},
      {"p":"B","g":"sub","s":"note","t":63.74,"pH":6.686,"text":"i"},
      {"p":"B","g":"small","s":"note","t":25.36,"pH":6.962,"text":"5 min"}
    ]
  },
  "vconcat": [
    {
      "width": 705,
      "height": 390,
      "layer": [
        {"data": {"name": "bands"}, "transform": [{"filter": "datum.p == 'A'"}],
         "mark": {"type": "rect", "color": "#e3e3e3"},
         "encoding": {"x": {"field": "t1", "type": "quantitative", "scale": {"domain": [0, 65], "nice": false, "zero": false}, "axis": null}, "x2": {"field": "t2"},
                      "y": {"datum": 6.477, "type": "quantitative", "scale": {"domain": [6.4442, 8.9766], "nice": false, "zero": false},
                            "axis": {"values": [6.5, 6.7, 6.9, 7.1, 7.3, 7.5, 7.7, 7.9, 8.1], "format": ".1f", "domain": false, "grid": false, "ticks": true, "tickSize": -6, "tickWidth": 2, "tickColor": "#000", "labelFontSize": 9.5, "labelColor": "#333", "labelPadding": 21, "title": "pH", "titleAngle": 0, "titleAlign": "left", "titleBaseline": "middle", "titleX": -49, "titleY": 257, "titleFontSize": 13, "titleFontWeight": "normal", "titleColor": "#000"}},
                      "y2": {"datum": 8.54}}},
        {"data": {"name": "electrode"}, "transform": [{"filter": "datum.p == 'A'"}],
         "mark": {"type": "line", "color": "#000", "strokeWidth": 1.4},
         "encoding": {"x": {"field": "t", "type": "quantitative", "scale": {"domain": [0, 65], "nice": false, "zero": false}, "axis": null},
                      "y": {"field": "v", "type": "quantitative", "scale": {"domain": [6.4442, 8.9766], "nice": false, "zero": false}},
                      "detail": {"field": "c"}, "order": {"field": "o"}}},
        {"data": {"name": "co2"}, "transform": [{"filter": "datum.p == 'A'"}],
         "mark": {"type": "line", "color": "#000", "strokeWidth": 2.2},
         "encoding": {"x": {"field": "t", "type": "quantitative", "scale": {"domain": [0, 65], "nice": false, "zero": false}, "axis": null},
                      "y": {"field": "v", "type": "quantitative", "scale": {"domain": [6.4442, 8.9766], "nice": false, "zero": false}},
                      "detail": {"field": "c"}, "order": {"field": "o"}}},
        {"data": {"name": "traces"}, "transform": [{"filter": "datum.p == 'A'"}],
         "mark": {"type": "line", "strokeWidth": 1.4},
         "encoding": {"x": {"field": "t", "type": "quantitative", "scale": {"domain": [0, 65], "nice": false, "zero": false}, "axis": null},
                      "y": {"field": "pH", "type": "quantitative", "scale": {"domain": [6.4442, 8.9766], "nice": false, "zero": false}},
                      "color": {"field": "s", "type": "nominal", "scale": {"domain": ["pHS", "pHi", "note"], "range": ["#2a7d2a", "#e8251f", "#000000"]}, "legend": null},
                      "detail": {"field": "c"}}},
        {"data": {"name": "dash"}, "transform": [{"filter": "datum.p == 'A'"}],
         "mark": {"type": "line", "color": "#000", "strokeWidth": 1.3, "strokeDash": [5, 3]},
         "encoding": {"x": {"field": "t", "type": "quantitative", "scale": {"domain": [0, 65], "nice": false, "zero": false}, "axis": null},
                      "y": {"field": "pH", "type": "quantitative", "scale": {"domain": [6.4442, 8.9766], "nice": false, "zero": false}},
                      "detail": [{"field": "c"}, {"field": "k"}]}},
        {"data": {"name": "arrows"}, "transform": [{"filter": "datum.p == 'A'"}],
         "mark": {"type": "rule", "color": "#000", "strokeWidth": 1},
         "encoding": {"x": {"field": "t", "type": "quantitative", "scale": {"domain": [0, 65], "nice": false, "zero": false}, "axis": null},
                      "y": {"field": "y0", "type": "quantitative", "scale": {"domain": [6.4442, 8.9766], "nice": false, "zero": false}}, "y2": {"field": "y1"}}},
        {"data": {"name": "arrows"}, "transform": [{"filter": "datum.p == 'A'"}],
         "mark": {"type": "point", "filled": true, "color": "#000", "size": 22, "opacity": 1},
         "encoding": {"x": {"field": "t", "type": "quantitative", "scale": {"domain": [0, 65], "nice": false, "zero": false}, "axis": null},
                      "y": {"field": "y1", "type": "quantitative", "scale": {"domain": [6.4442, 8.9766], "nice": false, "zero": false}},
                      "shape": {"field": "dir", "type": "nominal", "scale": {"domain": ["up", "down"], "range": ["triangle-up", "triangle-down"]}, "legend": null}}},
        {"data": {"values": [{"axis": "pH"}]},
         "mark": {"type": "rule", "color": "#000", "strokeWidth": 2},
         "encoding": {"x": {"datum": 0, "type": "quantitative", "scale": {"domain": [0, 65], "nice": false, "zero": false}, "axis": null},
                      "y": {"datum": 6.5, "type": "quantitative", "scale": {"domain": [6.4442, 8.9766], "nice": false, "zero": false}}, "y2": {"datum": 8.1}}},
        {"data": {"name": "scalebar"}, "transform": [{"filter": "datum.p == 'A'"}],
         "mark": {"type": "line", "color": "#000", "strokeWidth": 1.3},
         "encoding": {"x": {"field": "t", "type": "quantitative", "scale": {"domain": [0, 65], "nice": false, "zero": false}, "axis": null},
                      "y": {"field": "v", "type": "quantitative", "scale": {"domain": [6.4442, 8.9766], "nice": false, "zero": false}},
                      "order": {"field": "o"}}},
        {"data": {"name": "texts"}, "transform": [{"filter": "datum.p == 'A' && datum.g == 'letter'"}],
         "mark": {"type": "text", "align": "left", "baseline": "middle", "fontSize": 18, "fontWeight": "bold"},
         "encoding": {"x": {"field": "t", "type": "quantitative", "scale": {"domain": [0, 65], "nice": false, "zero": false}, "axis": null}, "y": {"field": "pH", "type": "quantitative", "scale": {"domain": [6.4442, 8.9766], "nice": false, "zero": false}}, "text": {"field": "text"}, "color": {"field": "s", "type": "nominal", "scale": {"domain": ["pHS", "pHi", "note"], "range": ["#2a7d2a", "#e8251f", "#000000"]}, "legend": null}}},
        {"data": {"name": "texts"}, "transform": [{"filter": "datum.p == 'A' && datum.g == 'title'"}],
         "mark": {"type": "text", "align": "left", "baseline": "middle", "fontSize": 15, "fontWeight": "bold"},
         "encoding": {"x": {"field": "t", "type": "quantitative", "scale": {"domain": [0, 65], "nice": false, "zero": false}, "axis": null}, "y": {"field": "pH", "type": "quantitative", "scale": {"domain": [6.4442, 8.9766], "nice": false, "zero": false}}, "text": {"field": "text"}, "color": {"field": "s", "type": "nominal", "scale": {"domain": ["pHS", "pHi", "note"], "range": ["#2a7d2a", "#e8251f", "#000000"]}, "legend": null}}},
        {"data": {"name": "texts"}, "transform": [{"filter": "datum.p == 'A' && datum.g == 'bold'"}],
         "mark": {"type": "text", "align": "center", "baseline": "middle", "fontSize": 13, "fontWeight": "bold"},
         "encoding": {"x": {"field": "t", "type": "quantitative", "scale": {"domain": [0, 65], "nice": false, "zero": false}, "axis": null}, "y": {"field": "pH", "type": "quantitative", "scale": {"domain": [6.4442, 8.9766], "nice": false, "zero": false}}, "text": {"field": "text"}, "color": {"field": "s", "type": "nominal", "scale": {"domain": ["pHS", "pHi", "note"], "range": ["#2a7d2a", "#e8251f", "#000000"]}, "legend": null}}},
        {"data": {"name": "texts"}, "transform": [{"filter": "datum.p == 'A' && datum.g == 'center'"}],
         "mark": {"type": "text", "align": "center", "baseline": "middle", "fontSize": 13},
         "encoding": {"x": {"field": "t", "type": "quantitative", "scale": {"domain": [0, 65], "nice": false, "zero": false}, "axis": null}, "y": {"field": "pH", "type": "quantitative", "scale": {"domain": [6.4442, 8.9766], "nice": false, "zero": false}}, "text": {"field": "text"}, "color": {"field": "s", "type": "nominal", "scale": {"domain": ["pHS", "pHi", "note"], "range": ["#2a7d2a", "#e8251f", "#000000"]}, "legend": null}}},
        {"data": {"name": "texts"}, "transform": [{"filter": "datum.p == 'A' && datum.g == 'right'"}],
         "mark": {"type": "text", "align": "right", "baseline": "middle", "fontSize": 13},
         "encoding": {"x": {"field": "t", "type": "quantitative", "scale": {"domain": [0, 65], "nice": false, "zero": false}, "axis": null}, "y": {"field": "pH", "type": "quantitative", "scale": {"domain": [6.4442, 8.9766], "nice": false, "zero": false}}, "text": {"field": "text"}, "color": {"field": "s", "type": "nominal", "scale": {"domain": ["pHS", "pHi", "note"], "range": ["#2a7d2a", "#e8251f", "#000000"]}, "legend": null}}},
        {"data": {"name": "texts"}, "transform": [{"filter": "datum.p == 'A' && datum.g == 'left'"}],
         "mark": {"type": "text", "align": "left", "baseline": "middle", "fontSize": 13},
         "encoding": {"x": {"field": "t", "type": "quantitative", "scale": {"domain": [0, 65], "nice": false, "zero": false}, "axis": null}, "y": {"field": "pH", "type": "quantitative", "scale": {"domain": [6.4442, 8.9766], "nice": false, "zero": false}}, "text": {"field": "text"}, "color": {"field": "s", "type": "nominal", "scale": {"domain": ["pHS", "pHi", "note"], "range": ["#2a7d2a", "#e8251f", "#000000"]}, "legend": null}}},
        {"data": {"name": "texts"}, "transform": [{"filter": "datum.p == 'A' && datum.g == 'sub'"}],
         "mark": {"type": "text", "align": "left", "baseline": "middle", "fontSize": 9},
         "encoding": {"x": {"field": "t", "type": "quantitative", "scale": {"domain": [0, 65], "nice": false, "zero": false}, "axis": null}, "y": {"field": "pH", "type": "quantitative", "scale": {"domain": [6.4442, 8.9766], "nice": false, "zero": false}}, "text": {"field": "text"}, "color": {"field": "s", "type": "nominal", "scale": {"domain": ["pHS", "pHi", "note"], "range": ["#2a7d2a", "#e8251f", "#000000"]}, "legend": null}}},
        {"data": {"name": "texts"}, "transform": [{"filter": "datum.p == 'A' && datum.g == 'num'"}],
         "mark": {"type": "text", "align": "center", "baseline": "middle", "fontSize": 12},
         "encoding": {"x": {"field": "t", "type": "quantitative", "scale": {"domain": [0, 65], "nice": false, "zero": false}, "axis": null}, "y": {"field": "pH", "type": "quantitative", "scale": {"domain": [6.4442, 8.9766], "nice": false, "zero": false}}, "text": {"field": "text"}, "color": {"field": "s", "type": "nominal", "scale": {"domain": ["pHS", "pHi", "note"], "range": ["#2a7d2a", "#e8251f", "#000000"]}, "legend": null}}},
        {"data": {"name": "texts"}, "transform": [{"filter": "datum.p == 'A' && datum.g == 'small'"}],
         "mark": {"type": "text", "align": "center", "baseline": "middle", "fontSize": 10.5},
         "encoding": {"x": {"field": "t", "type": "quantitative", "scale": {"domain": [0, 65], "nice": false, "zero": false}, "axis": null}, "y": {"field": "pH", "type": "quantitative", "scale": {"domain": [6.4442, 8.9766], "nice": false, "zero": false}}, "text": {"field": "text"}, "color": {"field": "s", "type": "nominal", "scale": {"domain": ["pHS", "pHi", "note"], "range": ["#2a7d2a", "#e8251f", "#000000"]}, "legend": null}}}
      ]
    },
    {
      "width": 705,
      "height": 325,
      "layer": [
        {"data": {"name": "bands"}, "transform": [{"filter": "datum.p == 'B'"}],
         "mark": {"type": "rect", "color": "#e3e3e3"},
         "encoding": {"x": {"field": "t1", "type": "quantitative", "scale": {"domain": [0, 65], "nice": false, "zero": false}, "axis": null}, "x2": {"field": "t2"},
                      "y": {"datum": 6.507, "type": "quantitative", "scale": {"domain": [6.4636, 8.574], "nice": false, "zero": false},
                            "axis": {"values": [6.5, 6.7, 6.9, 7.1, 7.3, 7.5, 7.7, 7.9, 8.1], "format": ".1f", "domain": false, "grid": false, "ticks": true, "tickSize": -6, "tickWidth": 2, "tickColor": "#000", "labelFontSize": 9.5, "labelColor": "#333", "labelPadding": 21, "title": "pH", "titleAngle": 0, "titleAlign": "left", "titleBaseline": "middle", "titleX": -49, "titleY": 203, "titleFontSize": 13, "titleFontWeight": "normal", "titleColor": "#000"}},
                      "y2": {"datum": 8.379}}},
        {"data": {"name": "electrode"}, "transform": [{"filter": "datum.p == 'B'"}],
         "mark": {"type": "line", "color": "#000", "strokeWidth": 1.4},
         "encoding": {"x": {"field": "t", "type": "quantitative", "scale": {"domain": [0, 65], "nice": false, "zero": false}, "axis": null},
                      "y": {"field": "v", "type": "quantitative", "scale": {"domain": [6.4636, 8.574], "nice": false, "zero": false}},
                      "detail": {"field": "c"}, "order": {"field": "o"}}},
        {"data": {"name": "co2"}, "transform": [{"filter": "datum.p == 'B'"}],
         "mark": {"type": "line", "color": "#000", "strokeWidth": 2.2},
         "encoding": {"x": {"field": "t", "type": "quantitative", "scale": {"domain": [0, 65], "nice": false, "zero": false}, "axis": null},
                      "y": {"field": "v", "type": "quantitative", "scale": {"domain": [6.4636, 8.574], "nice": false, "zero": false}},
                      "detail": {"field": "c"}, "order": {"field": "o"}}},
        {"data": {"name": "traces"}, "transform": [{"filter": "datum.p == 'B'"}],
         "mark": {"type": "line", "strokeWidth": 1.4},
         "encoding": {"x": {"field": "t", "type": "quantitative", "scale": {"domain": [0, 65], "nice": false, "zero": false}, "axis": null},
                      "y": {"field": "pH", "type": "quantitative", "scale": {"domain": [6.4636, 8.574], "nice": false, "zero": false}},
                      "color": {"field": "s", "type": "nominal", "scale": {"domain": ["pHS", "pHi", "note"], "range": ["#2a7d2a", "#e8251f", "#000000"]}, "legend": null},
                      "detail": {"field": "c"}}},
        {"data": {"name": "dash"}, "transform": [{"filter": "datum.p == 'B'"}],
         "mark": {"type": "line", "color": "#000", "strokeWidth": 1.3, "strokeDash": [5, 3]},
         "encoding": {"x": {"field": "t", "type": "quantitative", "scale": {"domain": [0, 65], "nice": false, "zero": false}, "axis": null},
                      "y": {"field": "pH", "type": "quantitative", "scale": {"domain": [6.4636, 8.574], "nice": false, "zero": false}},
                      "detail": [{"field": "c"}, {"field": "k"}]}},
        {"data": {"name": "arrows"}, "transform": [{"filter": "datum.p == 'B'"}],
         "mark": {"type": "rule", "color": "#000", "strokeWidth": 1},
         "encoding": {"x": {"field": "t", "type": "quantitative", "scale": {"domain": [0, 65], "nice": false, "zero": false}, "axis": null},
                      "y": {"field": "y0", "type": "quantitative", "scale": {"domain": [6.4636, 8.574], "nice": false, "zero": false}}, "y2": {"field": "y1"}}},
        {"data": {"name": "arrows"}, "transform": [{"filter": "datum.p == 'B'"}],
         "mark": {"type": "point", "filled": true, "color": "#000", "size": 22, "opacity": 1},
         "encoding": {"x": {"field": "t", "type": "quantitative", "scale": {"domain": [0, 65], "nice": false, "zero": false}, "axis": null},
                      "y": {"field": "y1", "type": "quantitative", "scale": {"domain": [6.4636, 8.574], "nice": false, "zero": false}},
                      "shape": {"field": "dir", "type": "nominal", "scale": {"domain": ["up", "down"], "range": ["triangle-up", "triangle-down"]}, "legend": null}}},
        {"data": {"values": [{"axis": "pH"}]},
         "mark": {"type": "rule", "color": "#000", "strokeWidth": 2},
         "encoding": {"x": {"datum": 0, "type": "quantitative", "scale": {"domain": [0, 65], "nice": false, "zero": false}, "axis": null},
                      "y": {"datum": 6.5, "type": "quantitative", "scale": {"domain": [6.4636, 8.574], "nice": false, "zero": false}}, "y2": {"datum": 8.1}}},
        {"data": {"name": "scalebar"}, "transform": [{"filter": "datum.p == 'B'"}],
         "mark": {"type": "line", "color": "#000", "strokeWidth": 1.3},
         "encoding": {"x": {"field": "t", "type": "quantitative", "scale": {"domain": [0, 65], "nice": false, "zero": false}, "axis": null},
                      "y": {"field": "v", "type": "quantitative", "scale": {"domain": [6.4636, 8.574], "nice": false, "zero": false}},
                      "order": {"field": "o"}}},
        {"data": {"name": "texts"}, "transform": [{"filter": "datum.p == 'B' && datum.g == 'letter'"}],
         "mark": {"type": "text", "align": "left", "baseline": "middle", "fontSize": 18, "fontWeight": "bold"},
         "encoding": {"x": {"field": "t", "type": "quantitative", "scale": {"domain": [0, 65], "nice": false, "zero": false}, "axis": null}, "y": {"field": "pH", "type": "quantitative", "scale": {"domain": [6.4636, 8.574], "nice": false, "zero": false}}, "text": {"field": "text"}, "color": {"field": "s", "type": "nominal", "scale": {"domain": ["pHS", "pHi", "note"], "range": ["#2a7d2a", "#e8251f", "#000000"]}, "legend": null}}},
        {"data": {"name": "texts"}, "transform": [{"filter": "datum.p == 'B' && datum.g == 'title'"}],
         "mark": {"type": "text", "align": "left", "baseline": "middle", "fontSize": 15, "fontWeight": "bold"},
         "encoding": {"x": {"field": "t", "type": "quantitative", "scale": {"domain": [0, 65], "nice": false, "zero": false}, "axis": null}, "y": {"field": "pH", "type": "quantitative", "scale": {"domain": [6.4636, 8.574], "nice": false, "zero": false}}, "text": {"field": "text"}, "color": {"field": "s", "type": "nominal", "scale": {"domain": ["pHS", "pHi", "note"], "range": ["#2a7d2a", "#e8251f", "#000000"]}, "legend": null}}},
        {"data": {"name": "texts"}, "transform": [{"filter": "datum.p == 'B' && datum.g == 'bold'"}],
         "mark": {"type": "text", "align": "center", "baseline": "middle", "fontSize": 13, "fontWeight": "bold"},
         "encoding": {"x": {"field": "t", "type": "quantitative", "scale": {"domain": [0, 65], "nice": false, "zero": false}, "axis": null}, "y": {"field": "pH", "type": "quantitative", "scale": {"domain": [6.4636, 8.574], "nice": false, "zero": false}}, "text": {"field": "text"}, "color": {"field": "s", "type": "nominal", "scale": {"domain": ["pHS", "pHi", "note"], "range": ["#2a7d2a", "#e8251f", "#000000"]}, "legend": null}}},
        {"data": {"name": "texts"}, "transform": [{"filter": "datum.p == 'B' && datum.g == 'center'"}],
         "mark": {"type": "text", "align": "center", "baseline": "middle", "fontSize": 13},
         "encoding": {"x": {"field": "t", "type": "quantitative", "scale": {"domain": [0, 65], "nice": false, "zero": false}, "axis": null}, "y": {"field": "pH", "type": "quantitative", "scale": {"domain": [6.4636, 8.574], "nice": false, "zero": false}}, "text": {"field": "text"}, "color": {"field": "s", "type": "nominal", "scale": {"domain": ["pHS", "pHi", "note"], "range": ["#2a7d2a", "#e8251f", "#000000"]}, "legend": null}}},
        {"data": {"name": "texts"}, "transform": [{"filter": "datum.p == 'B' && datum.g == 'right'"}],
         "mark": {"type": "text", "align": "right", "baseline": "middle", "fontSize": 13},
         "encoding": {"x": {"field": "t", "type": "quantitative", "scale": {"domain": [0, 65], "nice": false, "zero": false}, "axis": null}, "y": {"field": "pH", "type": "quantitative", "scale": {"domain": [6.4636, 8.574], "nice": false, "zero": false}}, "text": {"field": "text"}, "color": {"field": "s", "type": "nominal", "scale": {"domain": ["pHS", "pHi", "note"], "range": ["#2a7d2a", "#e8251f", "#000000"]}, "legend": null}}},
        {"data": {"name": "texts"}, "transform": [{"filter": "datum.p == 'B' && datum.g == 'left'"}],
         "mark": {"type": "text", "align": "left", "baseline": "middle", "fontSize": 13},
         "encoding": {"x": {"field": "t", "type": "quantitative", "scale": {"domain": [0, 65], "nice": false, "zero": false}, "axis": null}, "y": {"field": "pH", "type": "quantitative", "scale": {"domain": [6.4636, 8.574], "nice": false, "zero": false}}, "text": {"field": "text"}, "color": {"field": "s", "type": "nominal", "scale": {"domain": ["pHS", "pHi", "note"], "range": ["#2a7d2a", "#e8251f", "#000000"]}, "legend": null}}},
        {"data": {"name": "texts"}, "transform": [{"filter": "datum.p == 'B' && datum.g == 'sub'"}],
         "mark": {"type": "text", "align": "left", "baseline": "middle", "fontSize": 9},
         "encoding": {"x": {"field": "t", "type": "quantitative", "scale": {"domain": [0, 65], "nice": false, "zero": false}, "axis": null}, "y": {"field": "pH", "type": "quantitative", "scale": {"domain": [6.4636, 8.574], "nice": false, "zero": false}}, "text": {"field": "text"}, "color": {"field": "s", "type": "nominal", "scale": {"domain": ["pHS", "pHi", "note"], "range": ["#2a7d2a", "#e8251f", "#000000"]}, "legend": null}}},
        {"data": {"name": "texts"}, "transform": [{"filter": "datum.p == 'B' && datum.g == 'num'"}],
         "mark": {"type": "text", "align": "center", "baseline": "middle", "fontSize": 12},
         "encoding": {"x": {"field": "t", "type": "quantitative", "scale": {"domain": [0, 65], "nice": false, "zero": false}, "axis": null}, "y": {"field": "pH", "type": "quantitative", "scale": {"domain": [6.4636, 8.574], "nice": false, "zero": false}}, "text": {"field": "text"}, "color": {"field": "s", "type": "nominal", "scale": {"domain": ["pHS", "pHi", "note"], "range": ["#2a7d2a", "#e8251f", "#000000"]}, "legend": null}}},
        {"data": {"name": "texts"}, "transform": [{"filter": "datum.p == 'B' && datum.g == 'small'"}],
         "mark": {"type": "text", "align": "center", "baseline": "middle", "fontSize": 10.5},
         "encoding": {"x": {"field": "t", "type": "quantitative", "scale": {"domain": [0, 65], "nice": false, "zero": false}, "axis": null}, "y": {"field": "pH", "type": "quantitative", "scale": {"domain": [6.4636, 8.574], "nice": false, "zero": false}}, "text": {"field": "text"}, "color": {"field": "s", "type": "nominal", "scale": {"domain": ["pHS", "pHi", "note"], "range": ["#2a7d2a", "#e8251f", "#000000"]}, "legend": null}}}
      ]
    }
  ]
}
